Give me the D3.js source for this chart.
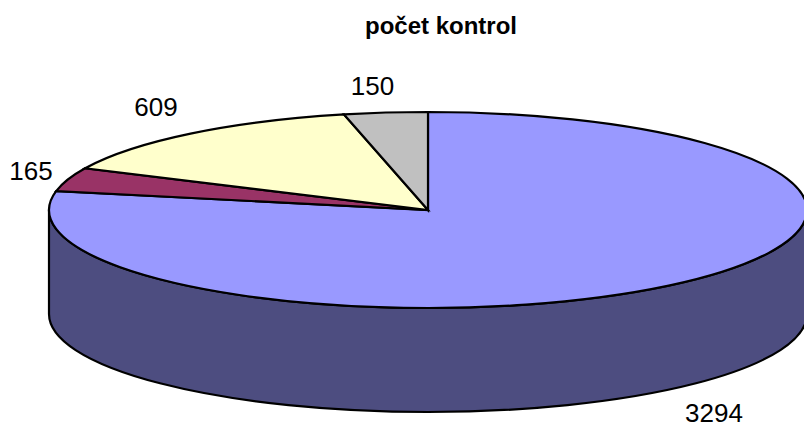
<!DOCTYPE html>
<html><head><meta charset="utf-8">
<script src="https://cdn.jsdelivr.net/npm/d3@7/dist/d3.min.js"></script>
<style>html,body{margin:0;padding:0;background:#fff}svg{display:block}text{font-family:"Liberation Sans",Arial,sans-serif;fill:#000}</style>
</head><body><svg id="c" width="804" height="424"></svg>
<script>
const categories = ["a","b","c","d"];
const values = [3294,165,609,150];
const labels = ["3294","165","609","150"];
const topColors = ["#9999ff","#993366","#ffffcc","#c0c0c0"];
const sideColor = "#4d4d80";
const title = "počet kontrol";
const cx=428, cy=210, rx=379, ry=98, depth=104, sw=2.2;
const svg=d3.select("#c");
const arcs=d3.pie().sort(null).value(d=>d)(values);
const lx=cx-rx, rxx=cx+rx;
svg.append("path").attr("d",`M${lx},${cy}L${lx},${cy+depth}A${rx},${ry} 0 0 0 ${rxx},${cy+depth}L${rxx},${cy}A${rx},${ry} 0 0 1 ${lx},${cy}Z`)
 .attr("fill",sideColor).attr("stroke","#000").attr("stroke-width",sw);
const arc=d3.arc().innerRadius(0).outerRadius(rx);
svg.append("g").attr("transform",`translate(${cx},${cy}) scale(1,${ry/rx})`)
 .selectAll("path").data(arcs).join("path").attr("d",arc)
 .attr("fill",(d,i)=>topColors[i]).attr("stroke","#000").attr("stroke-width",sw)
 .attr("stroke-linejoin","miter").attr("vector-effect","non-scaling-stroke");
svg.append("text").attr("x",441).attr("y",34).attr("text-anchor","middle").attr("font-size",24).attr("font-weight","bold").text(title);
const lp=[[714,422],[31,180],[156,116],[372.5,95]];
svg.selectAll("text.l").data(labels).join("text").attr("class","l").attr("x",(d,i)=>lp[i][0]).attr("y",(d,i)=>lp[i][1]).attr("text-anchor","middle").attr("font-size",26).text(d=>d);
</script></body></html>
